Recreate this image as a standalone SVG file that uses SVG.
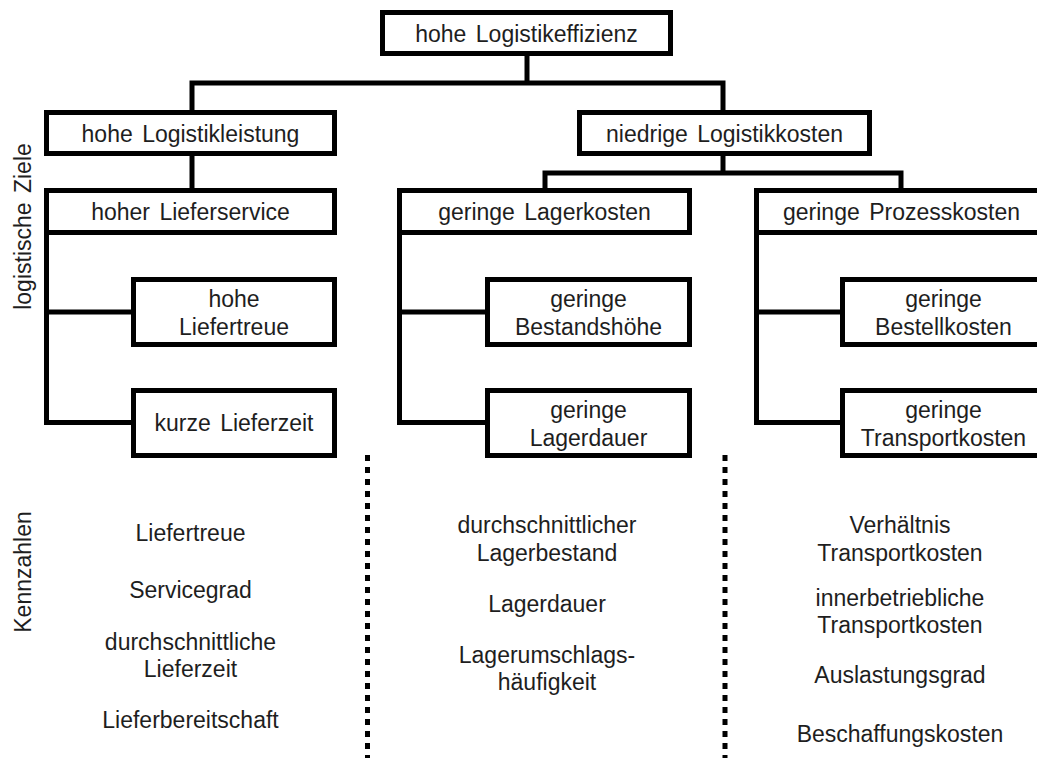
<svg xmlns="http://www.w3.org/2000/svg" width="1037" height="758" viewBox="0 0 1037 758">
  <style>
    .box { fill: #ffffff; stroke: #000000; stroke-width: 5; }
    .conn { fill: none; stroke: #000000; stroke-width: 5; stroke-linejoin: miter; stroke-linecap: butt; }
    .sep { fill: none; stroke: #000000; stroke-width: 5; stroke-dasharray: 6 6; }
    text { font-family: "Liberation Sans", Arial, sans-serif; font-size: 23px; fill: #1e1e1e; text-anchor: middle; word-spacing: 3px; }
  </style>
  <rect width="1037" height="758" fill="#ffffff"/>

  <!-- connectors of the goal hierarchy -->
  <g id="connectors">
    <path class="conn" d="M527,56 V83"/>
    <path class="conn" d="M192,110 V83 H723 V110"/>
    <path class="conn" d="M192,156 V188"/>
    <path class="conn" d="M723,156 V173"/>
    <path class="conn" d="M545,188 V173 H901 V188"/>
    <path class="conn" d="M46.5,232 V422.5 H133"/>
    <path class="conn" d="M46.5,312 H133"/>
    <path class="conn" d="M399.5,232 V422.5 H487"/>
    <path class="conn" d="M399.5,312 H487"/>
    <path class="conn" d="M756.5,232 V422.5 H842"/>
    <path class="conn" d="M756.5,312 H842"/>
  </g>

  <!-- dotted column separators -->
  <g id="separators">
    <path class="sep" d="M367.5,455 V758"/>
    <path class="sep" d="M725,455 V758"/>
  </g>

  <!-- side labels -->
  <g id="side-labels">
    <text transform="translate(31,226.5) rotate(-90)">logistische Ziele</text>
    <text transform="translate(31,572) rotate(-90)">Kennzahlen</text>
  </g>

  <g id="n-effizienz">
    <rect class="box" x="382.5" y="12.5" width="288" height="41"/>
    <text x="526.5" y="42">hohe Logistikeffizienz</text>
  </g>

  <g id="n-leistung">
    <rect class="box" x="46.5" y="112.5" width="288" height="41"/>
    <text x="190.5" y="142">hohe Logistikleistung</text>
  </g>

  <g id="n-kosten">
    <rect class="box" x="579.5" y="112.5" width="290" height="41"/>
    <text x="724.5" y="142">niedrige Logistikkosten</text>
  </g>

  <g id="n-lieferservice">
    <rect class="box" x="46.5" y="190.5" width="288" height="42"/>
    <text x="190.5" y="220">hoher Lieferservice</text>
  </g>

  <g id="n-lagerkosten">
    <rect class="box" x="399.5" y="190.5" width="290" height="42"/>
    <text x="544.5" y="220">geringe Lagerkosten</text>
  </g>

  <g id="n-prozesskosten">
    <rect class="box" x="756.5" y="190.5" width="290" height="42"/>
    <text x="901.5" y="220">geringe Prozesskosten</text>
  </g>

  <g id="n-liefertreue">
    <rect class="box" x="133.5" y="279.5" width="201" height="65"/>
    <text x="234" y="307">hohe</text>
    <text x="234" y="335">Liefertreue</text>
  </g>

  <g id="n-lieferzeit">
    <rect class="box" x="133.5" y="390.5" width="201" height="65"/>
    <text x="234" y="431">kurze Lieferzeit</text>
  </g>

  <g id="n-bestandshoehe">
    <rect class="box" x="487.5" y="279.5" width="202" height="65"/>
    <text x="588.5" y="307">geringe</text>
    <text x="588.5" y="335">Bestandshöhe</text>
  </g>

  <g id="n-lagerdauer">
    <rect class="box" x="487.5" y="390.5" width="202" height="65"/>
    <text x="588.5" y="418">geringe</text>
    <text x="588.5" y="446">Lagerdauer</text>
  </g>

  <g id="n-bestellkosten">
    <rect class="box" x="842.5" y="279.5" width="202" height="65"/>
    <text x="943.5" y="307">geringe</text>
    <text x="943.5" y="335">Bestellkosten</text>
  </g>

  <g id="n-transportkosten">
    <rect class="box" x="842.5" y="390.5" width="202" height="65"/>
    <text x="943.5" y="418">geringe</text>
    <text x="943.5" y="446">Transportkosten</text>
  </g>

  <!-- key figures per column -->
  <g id="kpi-lieferservice">
    <text x="190.5" y="541">Liefertreue</text>
    <text x="190.5" y="598">Servicegrad</text>
    <text x="190.5" y="650">durchschnittliche</text>
    <text x="190.5" y="677">Lieferzeit</text>
    <text x="190.5" y="728">Lieferbereitschaft</text>
  </g>

  <g id="kpi-lager">
    <text x="547" y="533">durchschnittlicher</text>
    <text x="547" y="561">Lagerbestand</text>
    <text x="547" y="612">Lagerdauer</text>
    <text x="547" y="663">Lagerumschlags-</text>
    <text x="547" y="690">häufigkeit</text>
  </g>

  <g id="kpi-prozess">
    <text x="900" y="533">Verhältnis</text>
    <text x="900" y="561">Transportkosten</text>
    <text x="900" y="606">innerbetriebliche</text>
    <text x="900" y="633">Transportkosten</text>
    <text x="900" y="683">Auslastungsgrad</text>
    <text x="900" y="742">Beschaffungskosten</text>
  </g>
</svg>
